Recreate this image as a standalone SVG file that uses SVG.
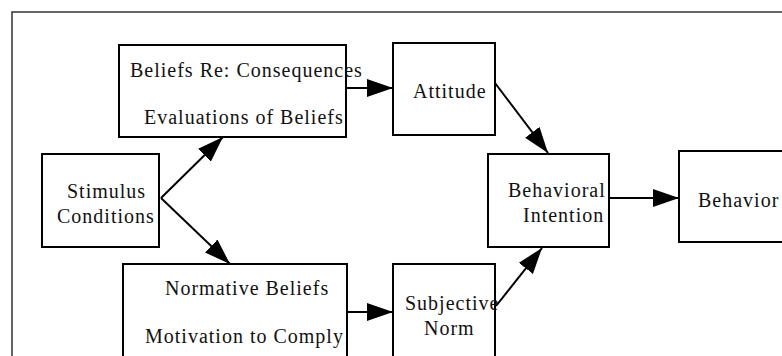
<svg xmlns="http://www.w3.org/2000/svg" width="782" height="356" viewBox="0 0 782 356">
<style>
.box{fill:#fff;stroke:#000;stroke-width:2}
.t{font-family:"Liberation Serif","Times New Roman",serif;font-size:20px;letter-spacing:1px;fill:#111}
.c{stroke:#000;stroke-width:2;fill:none;marker-end:url(#ah)}
</style>
<defs>
<marker id="ah" markerUnits="userSpaceOnUse" markerWidth="28" markerHeight="20" refX="26" refY="9" orient="auto">
<path d="M0,0 L26,9 L0,18 z" fill="#000"/>
</marker>
</defs>
<rect width="782" height="356" fill="#fff"/>
<rect x="12" y="12" width="800" height="400" fill="none" stroke="#333" stroke-width="1.5"/>
<g id="connectors">
<line class="c" x1="346" y1="88" x2="393" y2="88"/>
<line class="c" x1="495" y1="83" x2="548" y2="153"/>
<line class="c" x1="161" y1="198" x2="223" y2="137"/>
<line class="c" x1="161" y1="198" x2="230" y2="264"/>
<line class="c" x1="347" y1="312" x2="393" y2="312"/>
<line class="c" x1="496" y1="306" x2="542" y2="248"/>
<line class="c" x1="609" y1="198" x2="679" y2="198"/>
</g>
<g id="beliefs">
<rect class="box" x="119" y="45" width="227" height="92"/>
<text class="t" x="130" y="77">Beliefs Re: Consequences</text>
<text class="t" x="144" y="124">Evaluations of Beliefs</text>
</g>
<g id="attitude">
<rect class="box" x="393" y="43" width="102" height="92"/>
<text class="t" x="413" y="98">Attitude</text>
</g>
<g id="stimulus">
<rect class="box" x="42" y="154" width="117" height="93"/>
<text class="t" x="67" y="198">Stimulus</text>
<text class="t" x="57" y="223">Conditions</text>
</g>
<g id="intention">
<rect class="box" x="488" y="154" width="121" height="93"/>
<text class="t" x="508" y="197">Behavioral</text>
<text class="t" x="523" y="222">Intention</text>
</g>
<g id="behavior">
<rect class="box" x="679" y="151" width="120" height="91"/>
<text class="t" x="698" y="207">Behavior</text>
</g>
<g id="normative">
<rect class="box" x="123" y="264" width="224" height="120"/>
<text class="t" x="165" y="295">Normative Beliefs</text>
<text class="t" x="145" y="343">Motivation to Comply</text>
</g>
<g id="subjective">
<rect class="box" x="393" y="264" width="102" height="120"/>
<text class="t" x="405" y="310">Subjective</text>
<text class="t" x="424" y="335">Norm</text>
</g>
</svg>
